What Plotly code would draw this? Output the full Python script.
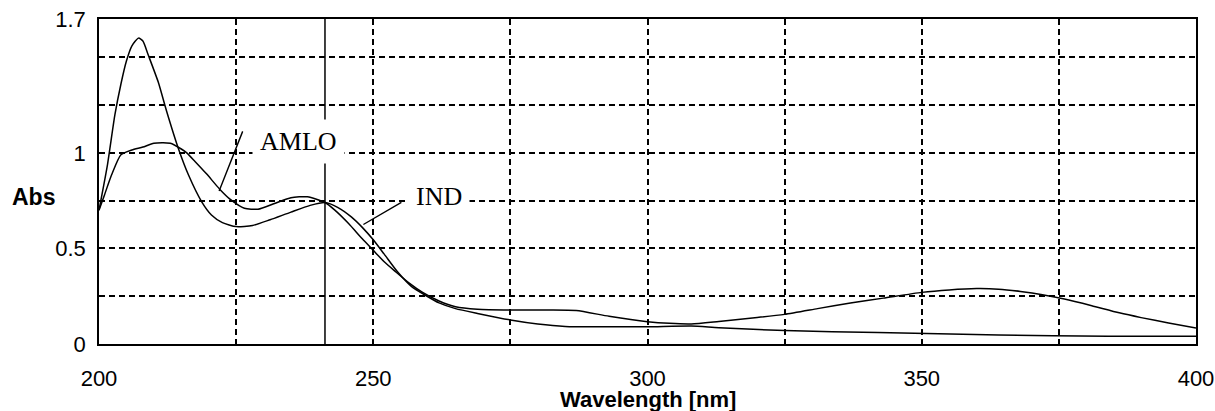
import plotly.graph_objects as go

# ---- data ----
amlo_wl = [200, 201, 202.3, 204, 206, 208, 210, 213, 215, 216, 217.5, 219.6, 222, 224, 226.5, 229,
           232, 235, 238, 241.2, 243, 245.5, 248, 250, 252, 254, 256.5, 259, 262, 265, 269, 275,
           282, 287, 293, 300, 304, 308, 313, 320, 325, 331, 337, 343, 350, 355, 360, 364, 368,
           372, 376, 381, 386, 390, 395, 400]
amlo_abs = [0.70, 0.78, 0.885, 0.99, 1.015, 1.03, 1.05, 1.05, 1.02, 1.0, 0.955, 0.89, 0.81, 0.755, 0.71, 0.705,
            0.735, 0.765, 0.77, 0.74, 0.70, 0.63, 0.55, 0.49, 0.43, 0.38, 0.32, 0.27, 0.225, 0.195, 0.182, 0.178,
            0.178, 0.175, 0.145, 0.117, 0.108, 0.105, 0.118, 0.138, 0.155, 0.185, 0.215, 0.24, 0.27, 0.283, 0.29,
            0.287, 0.275, 0.258, 0.235, 0.2, 0.163, 0.138, 0.11, 0.084]

ind_wl = [200, 201.5, 202.9, 204, 205, 206, 207.2, 208, 209, 210.8, 212.3, 214.5, 216.3, 218.7, 220.5,
          222.5, 225, 228, 231.2, 235, 238.5, 241.2, 243.5, 246, 248, 250, 252, 254.5, 257, 259.5, 262,
          265, 269, 275, 280, 285, 292, 300, 308, 313, 325, 342, 364, 384, 400]
ind_abs = [0.70, 0.93, 1.2, 1.36, 1.48, 1.56, 1.60, 1.585, 1.51, 1.37, 1.22, 1.02, 0.885, 0.745, 0.675,
           0.635, 0.614, 0.62, 0.65, 0.69, 0.725, 0.74, 0.715, 0.665, 0.61, 0.545, 0.47, 0.375, 0.30, 0.255, 0.215,
           0.185, 0.16, 0.126, 0.105, 0.092, 0.09, 0.09, 0.094, 0.085, 0.07, 0.06, 0.047, 0.04, 0.04]

x_tick_vals = [200, 250, 300, 350, 400]
x_minor_vals = [225, 275, 325, 375]
y_tick_vals = [0, 0.5, 1, 1.7]
y_tick_text = ["0", "0.5", "1", "1.7"]
y_minor_vals = [0.25, 0.75, 1.25, 1.5]
cursor_wl = 241.2

labels = ["AMLO", "IND"]
label_pos = [(236.4, 1.06), (261.9, 0.772)]
leader_from = [(221.9, 0.80), (248.2, 0.625)]
leader_to = [(226.3, 1.12), (255.4, 0.745)]

# ---- figure ----
fig = go.Figure()
for wl, ab, name in [(amlo_wl, amlo_abs, "AMLO"), (ind_wl, ind_abs, "IND")]:
    fig.add_trace(go.Scatter(x=wl, y=ab, mode="lines", name=name,
                             line=dict(color="black", width=1.5, shape="spline", smoothing=0.6),
                             showlegend=False, hoverinfo="skip"))

fig.add_shape(type="line", x0=cursor_wl, x1=cursor_wl, y0=0, y1=1.7, xref="x", yref="y",
              line=dict(color="black", width=1.5), layer="above")

grid_style = dict(gridcolor="black", gridwidth=1.5, griddash="6px,4px")
tick_font = dict(family="Liberation Sans, Arial", size=22, color="black")

fig.update_xaxes(range=[200, 400], tickmode="array", tickvals=x_tick_vals,
                 showgrid=True, **grid_style,
                 minor=dict(tickmode="array", tickvals=x_minor_vals, showgrid=True, **grid_style),
                 showline=True, mirror=True, linecolor="black", linewidth=1.5, zeroline=False,
                 ticks="", ticklabelstandoff=14, automargin=False, tickfont=tick_font,
                 ticklabeloverflow="allow")
fig.update_yaxes(range=[0, 1.7], tickmode="array", tickvals=y_tick_vals, ticktext=y_tick_text,
                 showgrid=True, **grid_style,
                 minor=dict(tickmode="array", tickvals=y_minor_vals, showgrid=True, **grid_style),
                 showline=True, mirror=True, linecolor="black", linewidth=1.5, zeroline=False,
                 ticks="", ticklabelstandoff=7, automargin=False, tickfont=tick_font,
                 ticklabeloverflow="allow")

for (lx, ly), (fx, fy), (tx, ty), txt in zip(label_pos, leader_from, leader_to, labels):
    fig.add_annotation(x=lx, y=ly, xref="x", yref="y", text=txt, showarrow=False,
                       font=dict(family="Liberation Serif, Times New Roman", size=26, color="black"),
                       bgcolor="white", borderpad=7)
    fig.add_annotation(x=fx, y=fy, ax=tx, ay=ty, xref="x", yref="y", axref="x", ayref="y",
                       text="", showarrow=True, arrowhead=0, arrowwidth=1.4, arrowcolor="black")

fig.add_annotation(x=-0.0593, y=0.77, xref="paper", yref="y", xanchor="center", text="Abs",
                   showarrow=False,
                   font=dict(family="Liberation Sans, Arial", size=23, color="black", weight="bold"))
fig.add_annotation(x=0.5, y=0, xref="paper", yref="paper", xanchor="center", yanchor="middle",
                   yshift=-55, text="Wavelength [nm]", showarrow=False,
                   font=dict(family="Liberation Sans, Arial", size=22, color="black", weight="bold"))

fig.update_layout(width=1215, height=411, margin=dict(l=99, r=19, t=19, b=67),
                  plot_bgcolor="white", paper_bgcolor="white")

# remove the default page margin so the figure fills the window exactly
fig.write_html("out.html", config={"displayModeBar": False},
               post_script="document.body.style.margin='0';document.body.style.overflow='hidden';")
